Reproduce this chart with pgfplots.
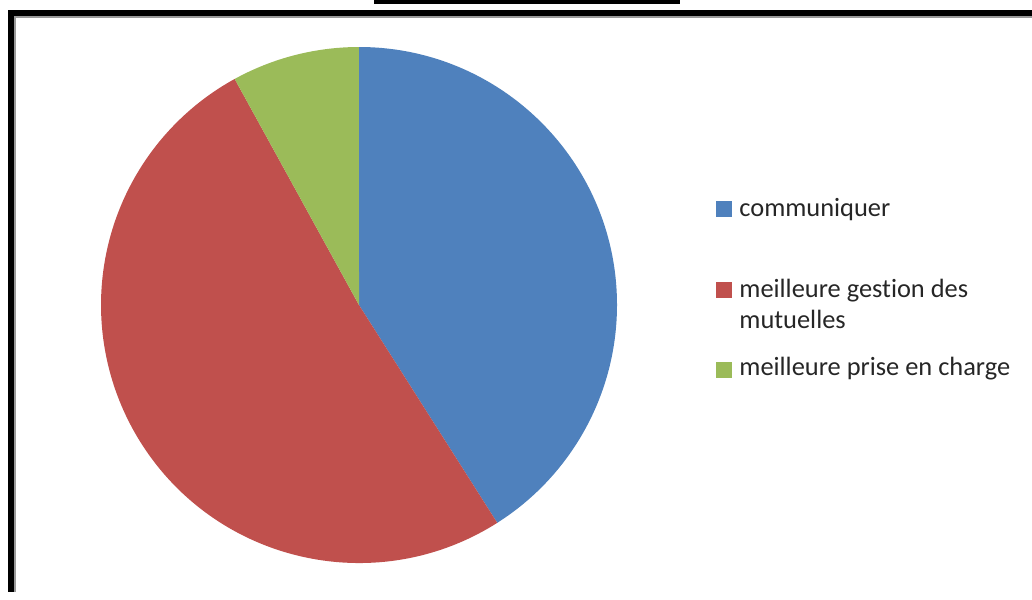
\documentclass[border=0pt]{standalone}
\usepackage{fontspec}
\setmainfont{Carlito}[Ligatures=NoCommon]
\usepackage{pgfplots}
\usepackage{pgfplotstable}
\pgfplotsset{compat=1.18}

\definecolor{cblue}{HTML}{4F81BD}
\definecolor{cred}{HTML}{C0504D}
\definecolor{cgreen}{HTML}{9BBB59}
\definecolor{fgray}{HTML}{9A9A9A}

% share of answers (percent)
\pgfplotstableread{
label value
communiquer 41
gestion 51
prise 8
}\piedata

\pgfplotstablegetelem{0}{value}\of\piedata \let\va\pgfplotsretval
\pgfplotstablegetelem{1}{value}\of\piedata \let\vb\pgfplotsretval
\pgfplotstablegetelem{2}{value}\of\piedata \let\vc\pgfplotsretval
\pgfmathsetmacro\total{\va+\vb+\vc}
\pgfmathsetmacro\aA{90}
\pgfmathsetmacro\aB{\aA-360*(\va/\total)}
\pgfmathsetmacro\aC{\aB-360*(\vb/\total)}
\pgfmathsetmacro\aD{\aC-360*(\vc/\total)}

\begin{document}
\begin{tikzpicture}
\begin{axis}[
    x=0.5pt, y=0.5pt,
    xmin=0, xmax=1032, ymin=0, ymax=592,
    hide axis, clip=false,
]
\path (axis cs:0,0) rectangle (axis cs:1032,592);
% frame
\fill[black] (axis cs:374,588) rectangle (axis cs:680,592);
\fill[black] (axis cs:8,576) rectangle (axis cs:1032,582);
\fill[fgray] (axis cs:14,574.5) rectangle (axis cs:1032,576);
\fill[black] (axis cs:8,0) rectangle (axis cs:14,582);
\fill[fgray] (axis cs:14,0) rectangle (axis cs:15.5,576);
% pie
\def\ctr{axis cs:359,287}
\fill[cblue] (\ctr) -- ([shift={(\aA:129pt)}]\ctr) arc[start angle=\aA, end angle=\aB, radius=129pt] -- cycle;
\fill[cred] (\ctr) -- ([shift={(\aB:129pt)}]\ctr) arc[start angle=\aB, end angle=\aC, radius=129pt] -- cycle;
\fill[cgreen] (\ctr) -- ([shift={(\aC:129pt)}]\ctr) arc[start angle=\aC, end angle=\aD, radius=129pt] -- cycle;
% legend
\fill[cblue] (axis cs:716,375) rectangle (axis cs:732,391);
\fill[cred] (axis cs:716,294) rectangle (axis cs:732,310);
\fill[cgreen] (axis cs:716,214) rectangle (axis cs:732,230);
\begin{scope}[every node/.style={anchor=base west, inner sep=0pt, font=\fontsize{13.2}{15.5}\selectfont, text=black!85}]
\node at (axis cs:739,376) {communiquer};
\node at (axis cs:739,295) {meilleure gestion des};
\node at (axis cs:739,264) {mutuelles};
\node at (axis cs:739,217) {meilleure prise en charge};
\end{scope}
\end{axis}
\end{tikzpicture}
\end{document}
